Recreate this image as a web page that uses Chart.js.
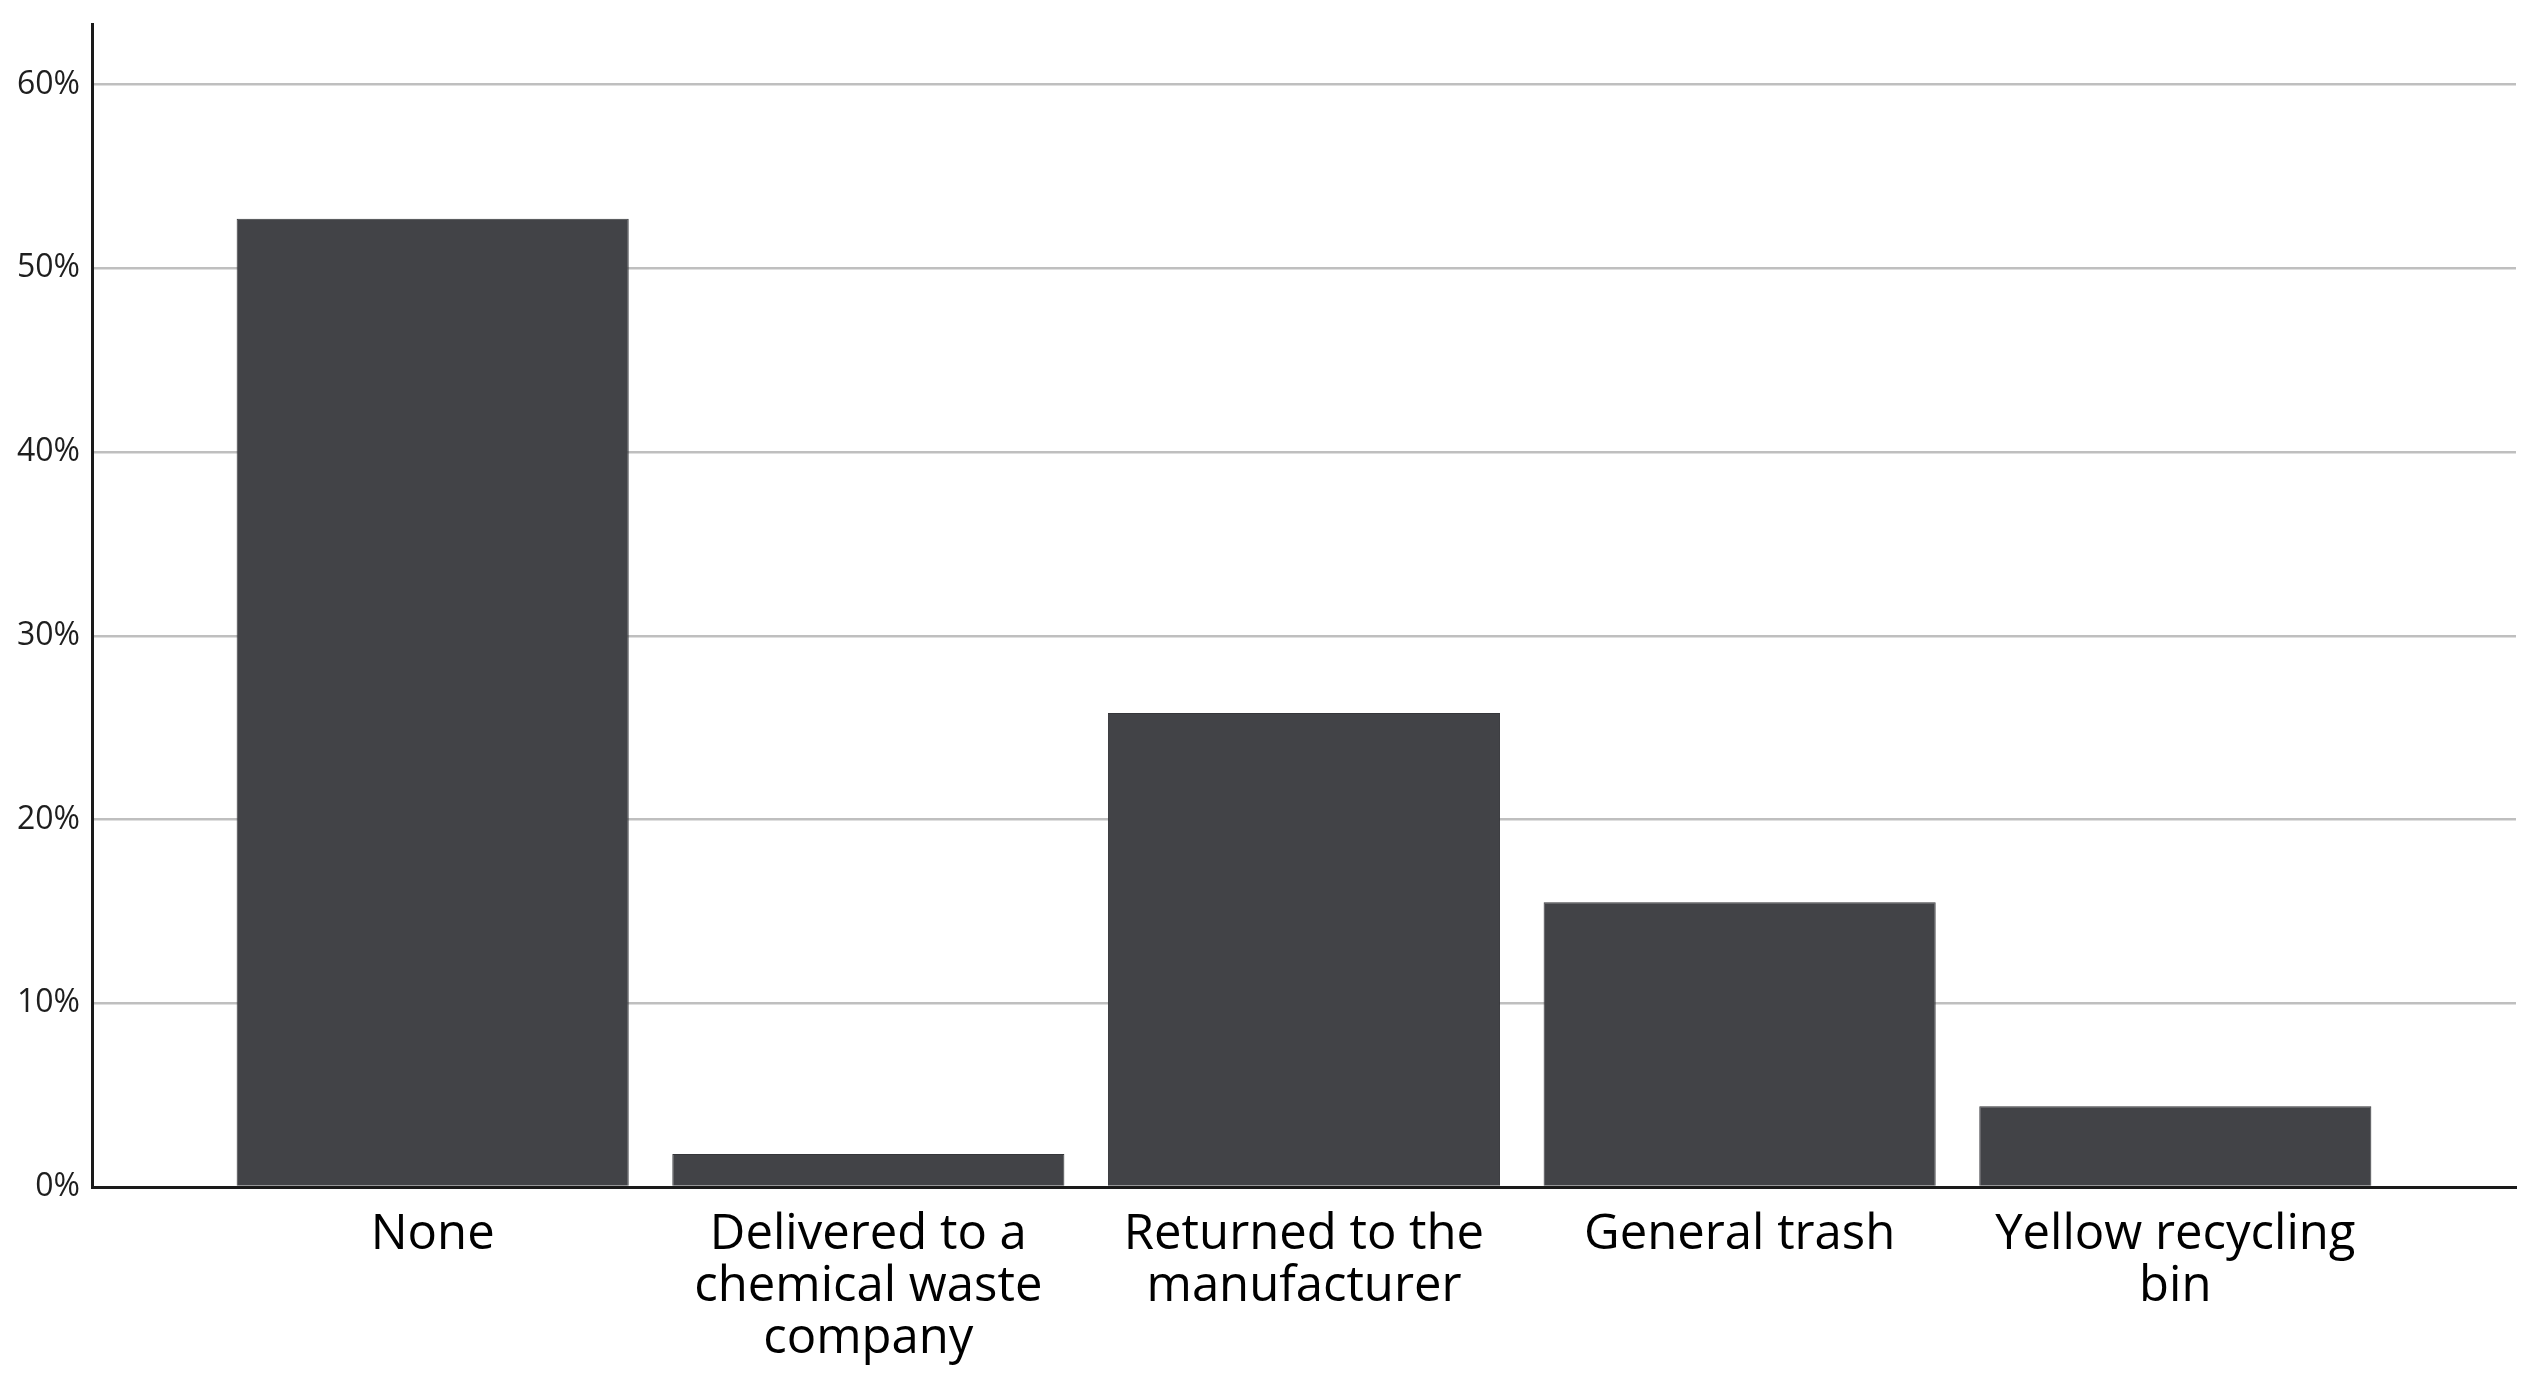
<!DOCTYPE html>
<html>
<head>
<meta charset="utf-8">
<script src="https://cdn.jsdelivr.net/npm/chart.js@4/dist/chart.umd.min.js"></script>
<style>
  html, body { margin: 0; padding: 0; background: #fff; }
  #wrap { width: 2540px; height: 1383px; }
</style>
</head>
<body>
<div id="wrap"><canvas id="barChart" width="2540" height="1383"></canvas></div>
<script>
// Disposal of leftover products (percent of respondents)
const categories = [
  ['None'],
  ['Delivered to a', 'chemical waste', 'company'],
  ['Returned to the', 'manufacturer'],
  ['General trash'],
  ['Yellow recycling', 'bin']
];
const percentages = [52.7, 1.8, 25.8, 15.5, 4.4];
const yTicks = [0, 10, 20, 30, 40, 50, 60];

const barColor = '#424347';

new Chart(document.getElementById('barChart'), {
  type: 'bar',
  data: {
    datasets: [{
      label: 'Percent',
      data: percentages.map((v, i) => ({ x: i, y: v })),
      backgroundColor: barColor,
      borderColor: '#35363a',
      borderWidth: 1,
      categoryPercentage: 0.9,
      barPercentage: 1
    }]
  },
  options: {
    responsive: false,
    animation: false,
    layout: { padding: { top: 24, right: 24, left: 0, bottom: 0 } },
    plugins: {
      legend: { display: false },
      tooltip: { enabled: false }
    },
    scales: {
      x: {
        type: 'linear',
        offset: false,
        min: -0.782,
        max: 4.782,
        grid: { display: false, drawTicks: false, offset: false },
        border: { display: true, color: '#1a1a1a', width: 3 },
        afterBuildTicks: s => { s.ticks = s.ticks.filter(t => Number.isInteger(t.value) && t.value >= 0 && t.value < categories.length); },
        afterFit: s => { s.height = 196; },
        ticks: {
          stepSize: 1,
          autoSkip: false,
          maxRotation: 0,
          padding: 22,
          color: '#000',
          font: { family: 'Open Sans', size: 49, lineHeight: 1.06 },
          callback: v => categories[v]
        }
      },
      y: {
        min: 0,
        max: 63.3,
        grid: { color: '#bfbfbf', lineWidth: 2.5, drawTicks: false },
        border: { display: true, color: '#1a1a1a', width: 3 },
        afterBuildTicks: s => { s.ticks = yTicks.map(v => ({ value: v })); },
        afterFit: s => { s.width = 92; s.paddingTop = 0; s.paddingBottom = 0; },
        ticks: {
          padding: 12,
          color: '#1e1e1e',
          font: { family: 'Open Sans', size: 32, lineHeight: 0.9 },
          callback: v => v + '%'
        }
      }
    }
  }
});
</script>
</body>
</html>
